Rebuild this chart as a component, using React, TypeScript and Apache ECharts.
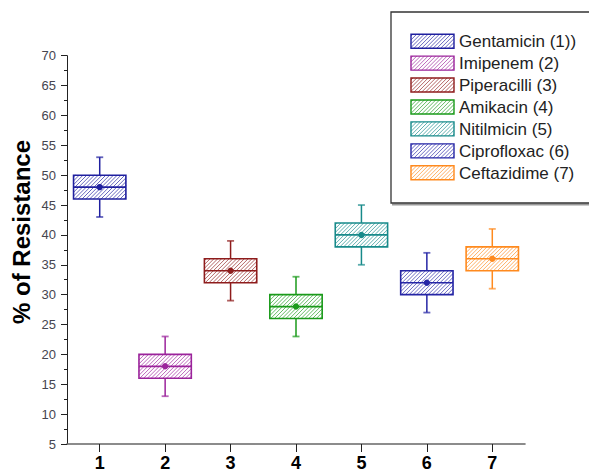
import React, { useEffect, useRef } from 'react';
import * as echarts from 'echarts';

const categories = ['1', '2', '3', '4', '5', '6', '7'];
const seriesNames = [
  'Gentamicin (1))',
  'Imipenem (2)',
  'Piperacilli (3)',
  'Amikacin (4)',
  'Nitilmicin (5)',
  'Ciprofloxac (6)',
  'Ceftazidime (7)',
];
const lows = [43, 13, 29, 23, 35, 27, 31];
const q1s = [46, 16, 32, 26, 38, 30, 34];
const medians = [48, 18, 34, 28, 40, 32, 36];
const q3s = [50, 20, 36, 30, 42, 34, 38];
const highs = [53, 23, 39, 33, 45, 37, 41];
const means = [48, 18, 34, 28, 40, 32, 36];
const colors = ['#1f1f9f', '#9b239b', '#8e1c1c', '#1a9a1a', '#178a8a', '#2525a5', '#ff8a1e'];

const HATCH_STEP = 3.8;
const FONT = '"Liberation Sans", Arial, sans-serif';

function hatchSegments(x0: number, y0: number, x1: number, y1: number, step: number) {
  const segs: number[][] = [];
  for (let c = x0 + y0 + step * 0.5; c < x1 + y1; c += step) {
    const xa = Math.max(x0, c - y1);
    const xb = Math.min(x1, c - y0);
    if (xb - xa > 0.3) segs.push([xa, c - xa, xb, c - xb]);
  }
  return segs;
}

function hatchElements(x0: number, y0: number, x1: number, y1: number, color: string) {
  return hatchSegments(x0, y0, x1, y1, HATCH_STEP).map((s) => ({
    type: 'line',
    silent: true,
    shape: { x1: s[0], y1: s[1], x2: s[2], y2: s[3] },
    style: { stroke: color, lineWidth: 0.8, opacity: 0.85 },
  }));
}

export default function App() {
  const ref = useRef<HTMLDivElement>(null);

  useEffect(() => {
    if (!ref.current) return;
    const chart = echarts.init(ref.current, null, { renderer: 'svg' });

    const data = categories.map((_, i) => [i, lows[i], q1s[i], medians[i], q3s[i], highs[i], means[i]]);

    const renderItem = (params: any, api: any) => {
      const i = params.dataIndex;
      const color = colors[i];
      const idx = api.value(0);
      const pLow = api.coord([idx, api.value(1)]);
      const pQ1 = api.coord([idx, api.value(2)]);
      const pMed = api.coord([idx, api.value(3)]);
      const pQ3 = api.coord([idx, api.value(4)]);
      const pHigh = api.coord([idx, api.value(5)]);
      const pMean = api.coord([idx, api.value(6)]);
      const cx = pMed[0];
      const w = api.size([1, 0])[0] * 0.8;
      const x0 = cx - w / 2;
      const x1 = cx + w / 2;
      const capW = 7;
      const children: any[] = [];
      children.push(...hatchElements(x0, pQ3[1], x1, pQ1[1], color));
      children.push({
        type: 'rect',
        shape: { x: x0, y: pQ3[1], width: w, height: pQ1[1] - pQ3[1] },
        style: { fill: 'none', stroke: color, lineWidth: 1.6 },
      });
      children.push({
        type: 'line',
        shape: { x1: x0, y1: pMed[1], x2: x1, y2: pMed[1] },
        style: { stroke: color, lineWidth: 1.6 },
      });
      children.push({
        type: 'line',
        shape: { x1: cx, y1: pHigh[1], x2: cx, y2: pQ3[1] },
        style: { stroke: color, lineWidth: 1.5 },
      });
      children.push({
        type: 'line',
        shape: { x1: cx, y1: pQ1[1], x2: cx, y2: pLow[1] },
        style: { stroke: color, lineWidth: 1.5 },
      });
      children.push({
        type: 'line',
        shape: { x1: cx - capW / 2, y1: pHigh[1], x2: cx + capW / 2, y2: pHigh[1] },
        style: { stroke: color, lineWidth: 1.8, opacity: 0.7 },
      });
      children.push({
        type: 'line',
        shape: { x1: cx - capW / 2, y1: pLow[1], x2: cx + capW / 2, y2: pLow[1] },
        style: { stroke: color, lineWidth: 1.8, opacity: 0.7 },
      });
      children.push({
        type: 'circle',
        shape: { cx: pMean[0], cy: pMean[1], r: 3.2 },
        style: { fill: color, stroke: 'none' },
      });
      return { type: 'group', children };
    };

    // Legend (drawn manually)
    const legendX = 391;
    const legendY = 12;
    const swX = 411;
    const swW = 43;
    const swH = 14;
    const row0 = 41.2;
    const rowGap = 21.93;
    const legendChildren: any[] = [
      {
        type: 'line',
        shape: { x1: legendX + 1, y1: 204.6, x2: 600, y2: 204.6 },
        style: { stroke: '#999', lineWidth: 2 },
      },
      {
        type: 'rect',
        shape: { x: legendX, y: legendY, width: 230, height: 191 },
        style: { fill: '#fff', stroke: '#333', lineWidth: 1.3 },
      },
    ];
    seriesNames.forEach((name, i) => {
      const cy = row0 + i * rowGap;
      const y0 = cy - swH / 2;
      const y1 = cy + swH / 2;
      legendChildren.push(...hatchElements(swX, y0, swX + swW, y1, colors[i]));
      legendChildren.push({
        type: 'rect',
        shape: { x: swX, y: y0, width: swW, height: swH },
        style: { fill: 'none', stroke: colors[i], lineWidth: 1.4 },
      });
      legendChildren.push({
        type: 'text',
        x: 459,
        y: cy + 0.5,
        style: {
          text: name,
          fontSize: 17,
          fontFamily: FONT,
          fill: '#222',
          verticalAlign: 'middle',
          align: 'left',
        },
      });
    });

    chart.setOption({
      animation: false,
      backgroundColor: '#fff',
      grid: { left: 67, right: 64, top: 55.7, bottom: 28, containLabel: false },
      xAxis: {
        type: 'category',
        data: categories,
        boundaryGap: true,
        axisLine: { show: true, lineStyle: { color: '#666', width: 1.6 } },
        axisTick: { show: true, alignWithLabel: true, length: 8, lineStyle: { color: '#222', width: 1 } },
        axisLabel: {
          color: '#000',
          fontSize: 18,
          fontWeight: 'bold',
          fontFamily: FONT,
          margin: 10,
        },
        splitLine: { show: false },
      },
      yAxis: {
        type: 'value',
        min: 5,
        max: 70,
        interval: 5,
        axisLine: { show: true, lineStyle: { color: '#222', width: 1 } },
        axisTick: { show: true, length: 6, lineStyle: { color: '#222', width: 1 } },
        minorTick: { show: true, splitNumber: 2, length: 3, lineStyle: { color: '#222', width: 1 } },
        axisLabel: {
          color: '#45454f',
          fontSize: 13,
          fontFamily: FONT,
          margin: 11,
        },
        splitLine: { show: false },
      },
      graphic: [
        {
          type: 'text',
          x: 21,
          y: 232,
          rotation: Math.PI / 2,
          style: {
            text: '% of Resistance',
            fontSize: 24,
            fontWeight: 'bold',
            fontFamily: FONT,
            fill: '#000',
            align: 'center',
            verticalAlign: 'middle',
          },
        },
        { type: 'group', children: legendChildren },
      ],
      series: [
        {
          type: 'custom',
          name: 'Resistance',
          renderItem,
          encode: { x: 0, y: [1, 2, 3, 4, 5, 6] },
          data,
          clip: false,
        },
      ],
    });

    return () => chart.dispose();
  }, []);

  return (
    <div
      ref={ref}
      style={{ position: 'fixed', left: 0, top: 0, width: 589, height: 472 }}
    />
  );
}
